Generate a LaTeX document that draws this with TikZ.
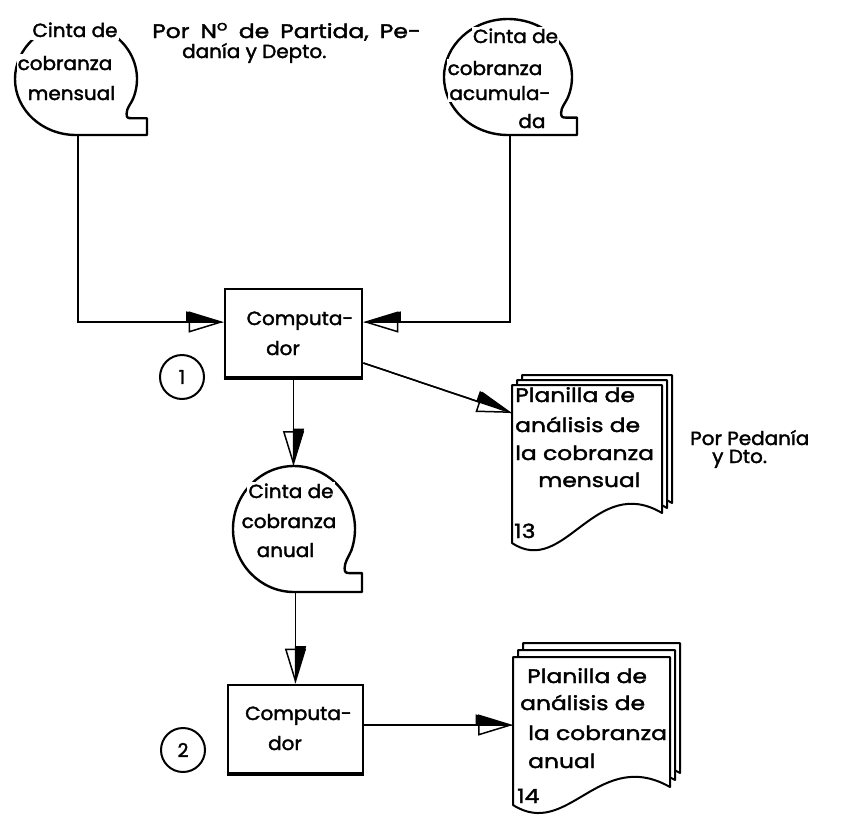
\documentclass[tikz,border=0pt]{standalone}
\usepackage{fontspec}
\setmainfont{Poppins}[UprightFeatures={FakeBold=2}]
\usetikzlibrary{arrows.meta,calc}

% magnetic tape symbol: centre, x radius, y radius, right end of the tail
\newcommand\tapeoutline[5]{%
  \draw[outline] (#1,#2+#4) arc[start angle=90, end angle=380, x radius=#3, y radius=#4]
    .. controls +(-3,7) and +(0,-6) .. (#1+0.83*#3, #2+0.62*#4)
    .. controls +(0,4) and +(-4,0) .. (#1+0.91*#3, #2+0.70*#4)
    -- (#5, #2+0.70*#4) -- (#5, #2+#4) -- cycle;
}
% one sheet of a printed report: top left corner, width, left height, right height
\newcommand\sheet[5]{%
  \draw[sheetline] (#1,#2) -- (#1+#3,#2) -- (#1+#3,#2+#5)
    .. controls (#1+0.55*#3, #2+#5-40) and (#1+0.35*#3, #2+#4+35) .. (#1,#2+#4) -- cycle;
}

\tikzset{
  outline/.style={line width=2.4pt, line join=round},
  sheetline/.style={line width=2pt, line join=round, fill=white},
  procbox/.style={draw, line width=2.8pt, minimum width=137pt, minimum height=88pt, inner sep=0pt},
  flow/.style={line width=1.5pt,
    -{Triangle[open, length=35pt, width=21pt]},
    postaction={draw, -{Triangle[#1, length=35pt, width=21pt]}}},
  flow/.default=left,
  txt/.style={font=\fontsize{19}{22}\selectfont\addfontfeature{FakeStretch=1.05,FakeBold=3}, inner sep=0pt, anchor=base},
  doctxt/.style={font=\fontsize{19.5}{22}\selectfont\addfontfeature{FakeStretch=1.2,FakeBold=2.5}, inner sep=0pt, anchor=base west},
  tapetxt/.style={txt, fill=white, inner xsep=1pt, inner ysep=1.5pt},
  stepnum/.style={circle, draw, line width=2pt, minimum size=44pt, inner sep=0pt,
    font=\fontsize{19}{22}\selectfont\addfontfeature{FakeBold=3}},
}

\begin{document}
\begin{tikzpicture}[x=1pt, y=-1pt]
\fill[white] (0,0) rectangle (847,828);
\useasboundingbox (0,0) rectangle (847,828);

% ---- input tapes
\tapeoutline{76}{79}{61}{56}{147}
\node[tapetxt, inner ysep=3pt] (tA1) at (75,37) {Cinta de};
\node[tapetxt] (tA2) at (65,70) {cobranza};
\node[tapetxt] (tA3) at (71.5,100) {mensual};
\coordinate (tA) at (78,136);

\tapeoutline{508}{77}{64}{58}{577}
\node[tapetxt] (tB1) at (515.5,43) {Cinta de};
\node[tapetxt] (tB2) at (495,75) {cobranza};
\node[tapetxt] (tB3) at (500,100) {acumula-};
\node[tapetxt] (tB4) at (532,128) {da};
\coordinate (tB) at (510,136);

\node[doctxt, execute at begin node={\spaceskip=11pt\relax}] (noteA1) at (152,38) {Por N\textsuperscript{o} de Partida, Pe-};
\node[txt, anchor=base west] (noteA2) at (182,58) {danía y Depto.};

% ---- first run
\node[procbox] (box1) at (293.5,333) {};
\draw[line width=3.8pt] (box1.south west) -- (box1.south east);
\node[txt] (c1a) at (300,325) {Computa-};
\node[txt] (c1b) at (283,355) {dor};
\node[stepnum] (n1) at (182,377) {1};

\draw[flow] (tA) |- ([yshift=11pt]box1.west);
\draw[flow=right] (tB) |- ([yshift=11pt]box1.east);

% ---- annual tape
\tapeoutline{294}{529}{61}{63}{362}
\node[tapetxt] (tM1) at (291,498) {Cinta de};
\node[tapetxt] (tM2) at (289,528) {cobranza};
\node[tapetxt] (tM3) at (285.5,557) {anual};
\coordinate (tMtop) at (293.5,466);
\coordinate (tMbot) at (295.5,592);
\draw[flow] (box1.south) -- (tMtop);

% ---- monthly report
\sheet{522}{375}{150}{158}{128}
\sheet{517}{380}{150}{158}{128}
\sheet{512}{385}{150}{158}{128}
\node[doctxt] (r1a) at (515,402) {Planilla de};
\node[doctxt] (r1b) at (515,432) {análisis de};
\node[doctxt] (r1c) at (515,460) {la cobranza};
\node[doctxt] (r1d) at (538,487) {mensual};
\node[doctxt] (r1e) at (514,538) {13};
\coordinate (r1in) at (512,413);
\draw[flow] ([yshift=-30pt]box1.east) -- (r1in);

\node[txt, anchor=base west] (noteB1) at (690,445) {Por Pedanía};
\node[txt, anchor=base west] (noteB2) at (712,463) {y Dto.};

% ---- second run
\node[procbox, minimum width=135pt] (box2) at (295.5,729) {};
\draw[line width=3.8pt] (box2.south west) -- (box2.south east);
\node[txt] (c2a) at (298.5,720) {Computa-};
\node[txt] (c2b) at (285,750) {dor};
\node[stepnum] (n2) at (183,750) {2};
\draw[flow] (tMbot) -- (box2.north);

% ---- annual report
\sheet{523}{643}{157}{148}{130}
\sheet{518}{650}{157}{148}{130}
\sheet{513}{657}{157}{148}{130}
\node[doctxt] (r2a) at (527,683) {Planilla de};
\node[doctxt] (r2b) at (520,710) {análisis de};
\node[doctxt] (r2c) at (528,740) {la cobranza};
\node[doctxt] (r2d) at (528,768) {anual};
\node[doctxt] (r2e) at (517,803) {14};
\coordinate (r2in) at (513,725);
\draw[flow] ([yshift=4pt]box2.east) -- (r2in);
\end{tikzpicture}
\end{document}
